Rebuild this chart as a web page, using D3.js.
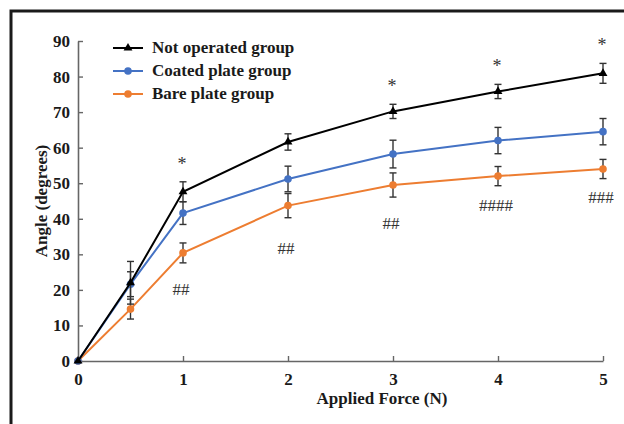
<!DOCTYPE html>
<html>
<head>
<meta charset="utf-8">
<script src="https://cdn.jsdelivr.net/npm/d3@7"></script>
<style>
  body { margin: 0; background: #fff; }
  svg { display: block; }
</style>
</head>
<body>
<script>
// data
const forces = [0, 0.5, 1, 2, 3, 4, 5];
const notOperated = [0, 22, 47.6, 61.6, 70.2, 75.8, 80.9];
const notOperatedErr = [0, 6, 2.8, 2.3, 2.0, 2.0, 2.8];
const coated = [0, 21.6, 41.6, 51.2, 58.2, 62.0, 64.5];
const coatedErr = [0, 3.5, 3.2, 3.6, 3.9, 3.7, 3.7];
const bare = [0, 14.6, 30.4, 43.7, 49.5, 52.0, 54.0];
const bareErr = [0, 2.8, 2.8, 3.4, 3.4, 2.7, 2.7];

const starX = [1, 3, 4, 5];
const hashX = [1, 2, 3, 4, 5];
const hashY = [20.2, 31.8, 38.8, 43.9, 46.1];
const hashText = ['##', '##', '##', '####', '###'];

const xTicks = [0, 1, 2, 3, 4, 5];
const yTicks = [0, 10, 20, 30, 40, 50, 60, 70, 80, 90];

const series = [
  { name: 'Bare plate group', values: bare, err: bareErr, color: '#ed7d31', marker: 'circle' },
  { name: 'Coated plate group', values: coated, err: coatedErr, color: '#4472c4', marker: 'circle' },
  { name: 'Not operated group', values: notOperated, err: notOperatedErr, color: '#000000', marker: 'triangle' },
];

const W = 624, H = 424;
const font = '"Liberation Serif", "Times New Roman", serif';

let svg = d3.select('body').append('svg').attr('width', W).attr('height', H);

// outer frame, runs off the right and bottom edges
svg.append('rect')
  .attr('x', 11).attr('y', 11).attr('width', 700).attr('height', 500)
  .attr('fill', 'none').attr('stroke', '#1a1a1a').attr('stroke-width', 3);

let x = d3.scaleLinear().domain([0, 5]).range([78, 603]);
let y = d3.scaleLinear().domain([0, 90]).range([361, 41]);

// axes, ticks point inwards
let gx = svg.append('g').attr('transform', 'translate(0,361)')
  .call(d3.axisBottom(x).tickValues(xTicks).tickFormat(d3.format('d'))
    .tickSizeInner(-5).tickSizeOuter(0).tickPadding(12));
let gy = svg.append('g').attr('transform', 'translate(78,0)')
  .call(d3.axisLeft(y).tickValues(yTicks).tickSizeInner(-5).tickSizeOuter(0).tickPadding(8));

[gx, gy].forEach(g => {
  g.select('.domain').attr('stroke', '#666').attr('stroke-width', 1.6);
  g.selectAll('.tick line').attr('stroke', '#666').attr('stroke-width', 1.4);
  g.selectAll('.tick text')
    .attr('fill', '#1a1a1a')
    .style('font-family', font).style('font-weight', 'bold').style('font-size', '17px');
});

// axis titles
svg.append('text')
  .attr('x', 382).attr('y', 404)
  .attr('text-anchor', 'middle')
  .style('font-family', font).style('font-weight', 'bold').style('font-size', '17px')
  .attr('fill', '#1a1a1a')
  .text('Applied Force (N)');

svg.append('text')
  .attr('transform', 'translate(47,201) rotate(-90)')
  .attr('text-anchor', 'middle')
  .style('font-family', font).style('font-weight', 'bold').style('font-size', '17px')
  .attr('fill', '#1a1a1a')
  .text('Angle (degrees)');

let line = d3.line().x(d => x(d[0])).y(d => y(d[1]));
let tri = d3.symbol().type(d3.symbolTriangle).size(34);

series.forEach(s => {
  let pts = forces.map((f, i) => [f, s.values[i], s.err[i]]);
  let g = svg.append('g');

  g.append('path')
    .datum(pts)
    .attr('d', line)
    .attr('fill', 'none')
    .attr('stroke', s.color)
    .attr('stroke-width', 2);

  // error bars
  let eb = g.selectAll('.err').data(pts.filter(d => d[2] > 0)).enter().append('g');
  eb.append('line')
    .attr('x1', d => x(d[0])).attr('x2', d => x(d[0]))
    .attr('y1', d => y(d[1] - d[2])).attr('y2', d => y(d[1] + d[2]))
    .attr('stroke', '#333').attr('stroke-width', 1.4);
  [-1, 1].forEach(sign => {
    eb.append('line')
      .attr('x1', d => x(d[0]) - 3.5).attr('x2', d => x(d[0]) + 3.5)
      .attr('y1', d => y(d[1] + sign * d[2])).attr('y2', d => y(d[1] + sign * d[2]))
      .attr('stroke', '#333').attr('stroke-width', 1.4);
  });

  if (s.marker === 'circle') {
    g.selectAll('circle').data(pts).enter().append('circle')
      .attr('cx', d => x(d[0])).attr('cy', d => y(d[1]))
      .attr('r', 3.8).attr('fill', s.color);
  } else {
    g.selectAll('.tri').data(pts).enter().append('path')
      .attr('d', tri)
      .attr('transform', d => `translate(${x(d[0])},${y(d[1])})`)
      .attr('fill', s.color);
  }
});

// significance marks
svg.selectAll('.star').data(starX).enter().append('text')
  .attr('x', d => x(d) - 1)
  .attr('y', d => {
    let i = forces.indexOf(d);
    return y(notOperated[i] + notOperatedErr[i]) - 12;
  })
  .attr('text-anchor', 'middle')
  .style('font-family', font).style('font-size', '18px')
  .attr('fill', '#333')
  .text('*');

svg.selectAll('.hash').data(hashX).enter().append('text')
  .attr('x', (d, i) => x(d) - 2)
  .attr('y', (d, i) => y(hashY[i]) + 6)
  .attr('text-anchor', 'middle')
  .style('font-family', font).style('font-size', '17px')
  .attr('fill', '#333')
  .text((d, i) => hashText[i]);

// legend
let legend = svg.append('g');
let legendItems = series.slice().reverse();
legendItems.forEach((s, i) => {
  let ly = 48 + i * 23;
  legend.append('line')
    .attr('x1', 113).attr('x2', 143).attr('y1', ly).attr('y2', ly)
    .attr('stroke', s.color).attr('stroke-width', 2);
  if (s.marker === 'circle') {
    legend.append('circle').attr('cx', 128).attr('cy', ly).attr('r', 3.8).attr('fill', s.color);
  } else {
    legend.append('path').attr('d', tri).attr('transform', `translate(128,${ly})`).attr('fill', s.color);
  }
  legend.append('text')
    .attr('x', 152).attr('y', ly + 5)
    .style('font-family', font).style('font-weight', 'bold').style('font-size', '17px')
    .attr('fill', '#1a1a1a')
    .text(s.name);
});
</script>
</body>
</html>
